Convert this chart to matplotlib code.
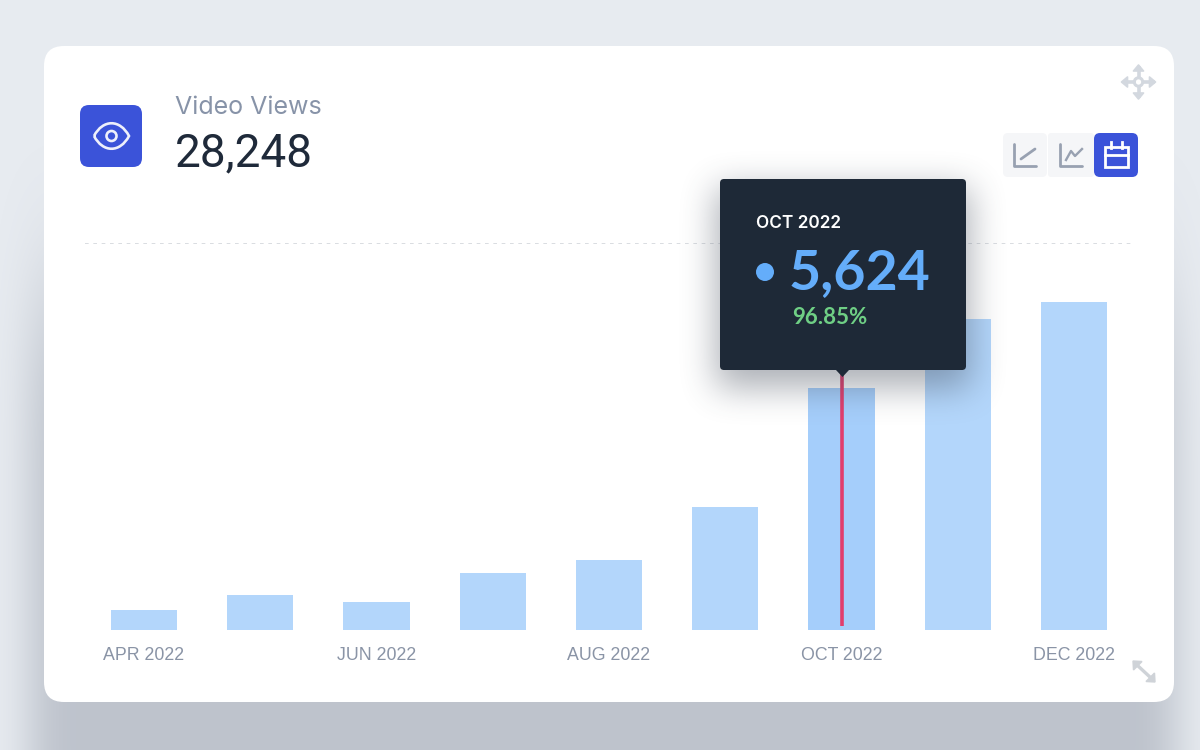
import numpy as np
import matplotlib
matplotlib.use("Agg")
import matplotlib.pyplot as plt
from matplotlib.patches import FancyBboxPatch, Circle, Polygon, PathPatch, Rectangle
from matplotlib.path import Path

months = ["APR 2022", "MAY 2022", "JUN 2022", "JUL 2022", "AUG 2022", "SEP 2022", "OCT 2022", "NOV 2022", "DEC 2022"]
views = [470, 820, 655, 1330, 1630, 2857, 5624, 7234, 7628]
tick_every = 2
highlight = "OCT 2022"
title = "Video Views"
total = "28,248"
tip_value = "5,624"
tip_change = "96.85%"

plt.rcParams["font.family"] = ["Inter", "DejaVu Sans"]
W, H = 1200, 750
fig = plt.figure(figsize=(12, 7.5), dpi=100, facecolor="#E7EBF0")

def px_axes(z):
    a = fig.add_axes([0, 0, 1, 1], zorder=z)
    a.set_xlim(0, W); a.set_ylim(H, 0); a.axis("off"); a.patch.set_alpha(0)
    return a

def rounded(a, x, y, w, h, r, **kw):
    p = FancyBboxPatch((x + r, y + r), w - 2 * r, h - 2 * r, boxstyle=f"round,pad={r},rounding_size={r}", linewidth=kw.pop("lw", 0), **kw)
    a.add_patch(p)
    return p

def blur(m, kx, ky):
    for _ in range(3):
        for ax_i, k in ((0, ky), (1, kx)):
            c = np.cumsum(np.insert(m, 0, 0, axis=ax_i), axis=ax_i)
            n = m.shape[ax_i]
            lo = np.clip(np.arange(n) - k, 0, n)
            hi = np.clip(np.arange(n) + k + 1, 0, n)
            if ax_i == 0:
                m = (c[hi, :] - c[lo, :]) / (2 * k + 1)
            else:
                m = (c[:, hi] - c[:, lo]) / (2 * k + 1)
    return m

def shadow(a, x0, y0, x1, y1, kx, ky, color, strength):
    pad = 300
    m = np.zeros((H + 2 * pad, W + 2 * pad))
    m[y0 + pad:y1 + pad, x0 + pad:x1 + pad] = 1
    m = blur(m, kx, ky)[pad:-pad, pad:-pad]
    img = np.zeros((H, W, 4))
    img[..., :3] = matplotlib.colors.to_rgb(color)
    img[..., 3] = np.clip(m * strength, 0, 1)
    a.imshow(img, extent=(0, W, H, 0), aspect="auto", interpolation="bilinear", zorder=1)
    a.set_xlim(0, W); a.set_ylim(H, 0)

bg = px_axes(0)
shadow(bg, 30, 300, 1176, 950, 18, 70, "#8E95A3", 0.46)
rounded(bg, 44, 46, 1130, 656, 20, fc="white", zorder=2)

# blue icon with eye
rounded(bg, 80, 105, 62, 62, 9, fc="#3B53D9", zorder=3)
eye = Path([(94, 136), (103, 119), (120, 119), (129, 136), (120, 153), (103, 153), (94, 136)],
           [Path.MOVETO, Path.CURVE4, Path.CURVE4, Path.CURVE4, Path.CURVE4, Path.CURVE4, Path.CURVE4])
bg.add_patch(PathPatch(eye, fc="none", ec="#EEF0FB", lw=1.9, zorder=4))
bg.add_patch(Circle((111.5, 136), 5, fc="none", ec="#EEF0FB", lw=1.9, zorder=4))

bg.text(175, 107, title, fontsize=18, color="#8793A8", va="center", ha="left", zorder=4)
bg.text(175, 153, total, fontsize=33, family=["Roboto", "DejaVu Sans"], color="#1F2A3A", va="center", ha="left", zorder=4)

# view switch buttons
rounded(bg, 1003, 133, 44, 44, 5, fc="#F5F6F8", zorder=3)
rounded(bg, 1048, 133, 46, 44, 3, fc="#F5F6F8", zorder=3)
rounded(bg, 1094, 133, 44, 44, 6, fc="#3B53D9", zorder=3)
ic = "#98A1B1"
bg.plot([1014, 1014, 1036], [144, 166, 166], color=ic, lw=2.0, zorder=4, solid_capstyle="round")
bg.plot([1021, 1035], [159, 149], color=ic, lw=2.0, zorder=4, solid_capstyle="round")
bg.plot([1060, 1060, 1082], [144, 166, 166], color=ic, lw=2.0, zorder=4, solid_capstyle="round")
bg.plot([1066, 1071, 1075, 1082], [160, 151, 156, 149], color=ic, lw=1.7, zorder=4)
bg.add_patch(Rectangle((1104.5, 147), 23, 20, fc="none", ec="white", lw=2.0, zorder=4))
bg.plot([1104.5, 1127.5], [155, 155], color="white", lw=2.0, zorder=4)
bg.plot([1111, 1111], [142, 148], color="white", lw=2.0, zorder=4)
bg.plot([1122, 1122], [142, 148], color="white", lw=2.0, zorder=4)

# move and resize handles
hc = "#D3D8DF"
cx, cy = 1138.5, 82
for dx, dy in [(0, -1), (0, 1), (-1, 0), (1, 0)]:
    bg.plot([cx + 5 * dx, cx + 14 * dx], [cy + 5 * dy, cy + 14 * dy], color=hc, lw=2.6, zorder=4)
    px, py = -dy, dx
    bg.add_patch(Polygon([(cx + 17 * dx, cy + 17 * dy),
                          (cx + 11 * dx + 5 * px, cy + 11 * dy + 5 * py),
                          (cx + 11 * dx - 5 * px, cy + 11 * dy - 5 * py)], fc=hc, ec=hc, lw=1.2, joinstyle="round", zorder=4))
bg.add_patch(Circle((cx, cy), 4.2, fc="none", ec=hc, lw=2.2, zorder=4))
rc = "#CFD3D8"
bg.plot([1137, 1151], [665, 678], color=rc, lw=2.4, zorder=4)
bg.add_patch(Polygon([(1133, 661), (1142, 661.5), (1133.5, 670)], fc=rc, ec=rc, lw=1, zorder=4))
bg.add_patch(Polygon([(1155, 682), (1146, 681.5), (1154.5, 673)], fc=rc, ec=rc, lw=1, zorder=4))

# bars, on their own axes
ax_l, ax_r, ax_top, ax_bot = 85, 1132, 243, 630
ax = fig.add_axes([ax_l / W, 1 - ax_bot / H, (ax_r - ax_l) / W, (ax_bot - ax_top) / H], zorder=1)
ax.patch.set_alpha(0)
x = np.arange(len(months))
step = 116.25
ax.set_xlim(-(144 - ax_l) / step, (ax_r - 144) / step)
ax.set_ylim(0, 9000)
colors = ["#A5CEFB" if m == highlight else "#B3D6FB" for m in months]
ax.bar(x, views, width=0.57, color=colors, linewidth=0, zorder=2)
ax.set_xticks(x[::tick_every])
ax.set_xticklabels(months[::tick_every], fontsize=12.8, color="#8A94A6", family=["Liberation Sans", "DejaVu Sans"])
ax.tick_params(axis="x", length=0, pad=12.5)
ax.set_yticks([9000])
ax.set_yticklabels([])
ax.tick_params(axis="y", length=0)
ax.grid(axis="y", color="#D3D7DC", lw=1.2, linestyle=(0, (2.2, 2.8)), zorder=1)
ax.set_axisbelow(True)
for s in ax.spines.values():
    s.set_visible(False)

hi = months.index(highlight)
ax.plot([hi, hi], [90, 9000 * (630 - 370) / 387], color="#E23D6D", lw=2.6, zorder=3, solid_capstyle="butt")

# tooltip
ov = px_axes(2)
shadow(ov, 716, 188, 970, 388, 16, 16, "#3A4352", 0.42)
rounded(ov, 720, 179, 246, 191, 4, fc="#1E2937", zorder=3)
ov.add_patch(Polygon([(836, 370), (849, 370), (842.5, 377)], fc="#1E2937", ec="none", zorder=3))
ov.text(756, 223, highlight, fontsize=12.4, fontweight="semibold", color="white", va="center", zorder=4)
ov.add_patch(Circle((765, 272), 9, fc="#64ADFA", zorder=4))
ov.text(789, 273, tip_value, fontsize=40, fontweight="bold", family=["Lato", "DejaVu Sans"], color="#64ADFA", va="center", zorder=4)
ov.text(792, 317, tip_change, fontsize=16, fontweight="bold", family=["Lato", "DejaVu Sans"], color="#6FCF85", va="center", zorder=4)

fig.savefig("out.png", dpi=100, facecolor=fig.get_facecolor())
